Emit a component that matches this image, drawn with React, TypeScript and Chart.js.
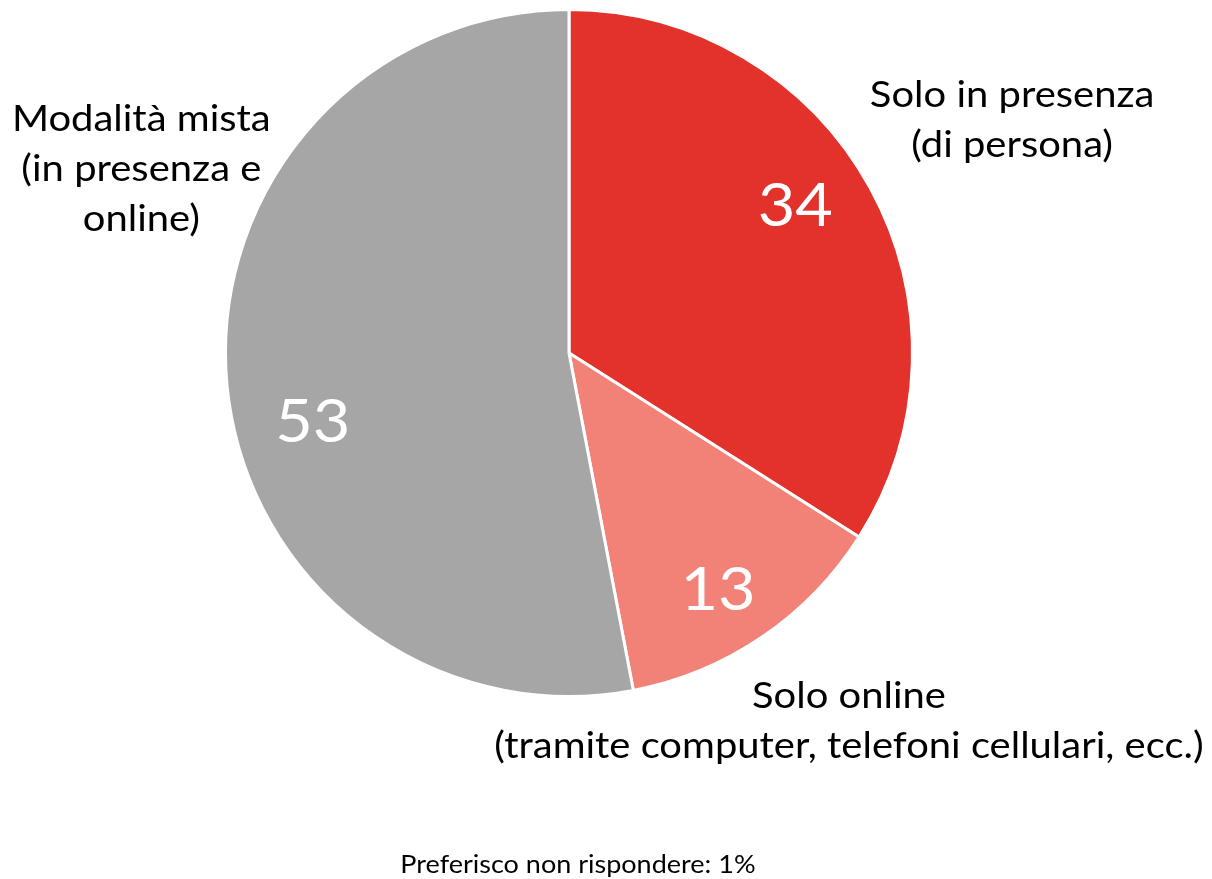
import React, { useEffect, useRef } from "react";
import { Chart, registerables } from "chart.js";

Chart.register(...registerables);

const categories = [
  "Solo in presenza (di persona)",
  "Solo online (tramite computer, telefoni cellulari, ecc.)",
  "Modalità mista (in presenza e online)",
];
const values = [34, 13, 53];
const colors = ["#E3312B", "#F28177", "#A6A6A6"];
const categoryLines = [
  ["Solo in presenza", "(di persona)"],
  ["Solo online", "(tramite computer, telefoni cellulari, ecc.)"],
  ["Modalità mista", "(in presenza e", "online)"],
];
const footnote = "Preferisco non rispondere: 1%";

// label placement relative to the pie center, in units of radius
const valuePos = [
  [0.659, -0.426],
  [0.434, 0.691],
  [-0.746, 0.204],
];
const catPos = [
  [1.29, -0.75],
  [0.815, 1.0],
  [-1.245, -0.68],
];

const FONT = "Lato, 'Open Sans', sans-serif";
const STRETCH = 1.08;

function drawText(ctx: any, text: string, x: number, y: number) {
  ctx.save();
  ctx.translate(x, y);
  ctx.scale(STRETCH, 1);
  ctx.fillText(text, 0, 0);
  ctx.restore();
}

const labelPlugin = {
  id: "labels",
  afterDraw(chart: any) {
    const ctx = chart.ctx;
    const meta = chart.getDatasetMeta(0);
    const arc = meta.data[0];
    const cx = arc.x;
    const cy = arc.y;
    const r = arc.outerRadius;
    ctx.save();
    ctx.textAlign = "center";
    ctx.textBaseline = "middle";
    // values
    ctx.fillStyle = "#FFFFFF";
    ctx.font = `60px ${FONT}`;
    values.forEach((v, i) => {
      drawText(ctx, String(v), cx + valuePos[i][0] * r, cy + valuePos[i][1] * r);
    });
    // category labels
    ctx.fillStyle = "#000000";
    ctx.font = `37px ${FONT}`;
    categoryLines.forEach((lines, i) => {
      const x = cx + catPos[i][0] * r;
      const y0 = cy + catPos[i][1] * r;
      lines.forEach((line, j) => {
        drawText(ctx, line, x, y0 + j * 50);
      });
    });
    // footnote
    ctx.font = `25px ${FONT}`;
    drawText(ctx, footnote, cx + 0.026 * r, cy + 1.49 * r);
    ctx.restore();
  },
};

export default function App() {
  const ref = useRef<HTMLCanvasElement>(null);
  useEffect(() => {
    if (!ref.current) return;
    const chart = new Chart(ref.current, {
      type: "pie",
      data: {
        labels: categories,
        datasets: [
          {
            data: values,
            backgroundColor: colors,
            borderColor: "#FFFFFF",
            borderWidth: 3,
          },
        ],
      },
      options: {
        responsive: false,
        animation: false,
        layout: { padding: { top: 8, bottom: 181, left: 224, right: 298 } },
        plugins: {
          legend: { display: false },
          tooltip: { enabled: false },
        },
      },
      plugins: [labelPlugin],
    });
    return () => chart.destroy();
  }, []);
  return (
    <div style={{ position: "fixed", left: 0, top: 0, width: 1212, height: 879, background: "#fff" }}>
      <canvas ref={ref} width={1212} height={879} style={{ width: 1212, height: 879 }} />
    </div>
  );
}
